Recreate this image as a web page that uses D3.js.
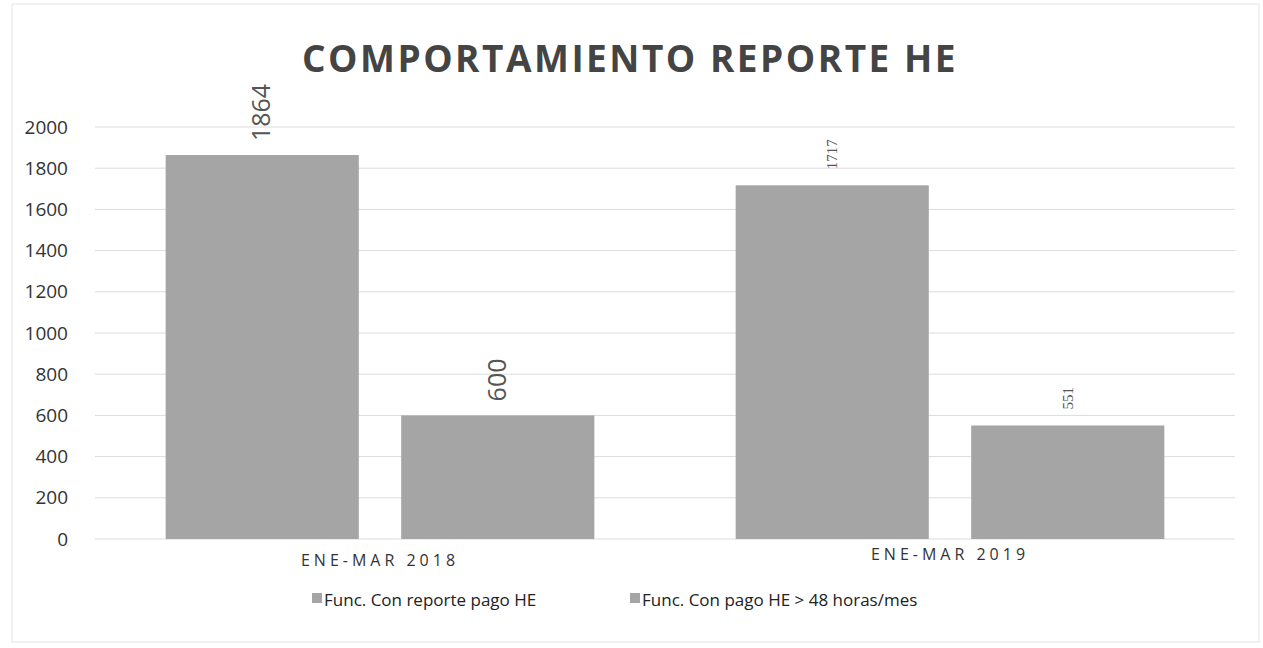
<!DOCTYPE html>
<html>
<head>
<meta charset="utf-8">
<script src="https://cdn.jsdelivr.net/npm/d3@7"></script>
<style>
  body { margin: 0; background: #fff; }
  svg { display: block; font-family: "Open Sans", "Noto Sans", sans-serif; }
</style>
</head>
<body>
<svg width="1263" height="648"></svg>
<script>
const categories = ["ENE-MAR 2018", "ENE-MAR 2019"];
const seriesNames = ["Func. Con reporte pago HE", "Func. Con pago HE > 48 horas/mes"];
const reporteHE = [1864, 1717];
const pagoMas48 = [600, 551];
const yTicks = [0, 200, 400, 600, 800, 1000, 1200, 1400, 1600, 1800, 2000];

const BAR_COLOR = "#a5a5a5";
const GRID_COLOR = "#dcdcdc";

var svg = d3.select("svg"),
	width = +svg.attr("width"),
	height = +svg.attr("height");

var margin = {top: 127, right: 28, bottom: 112, left: 95};

// faint page frame like the scan
svg.append("rect")
	.attr("x", 12).attr("y", 4)
	.attr("width", width - 16).attr("height", height - 10)
	.attr("fill", "none")
	.attr("stroke", "#e4e4e4");

var x0 = d3.scaleBand()
	.domain(categories)
	.range([margin.left, width - margin.right])
	.paddingInner(0)
	.paddingOuter(0);

var x1 = d3.scaleBand()
	.domain(seriesNames)
	.range([0, x0.bandwidth()])
	.paddingInner(0.18)
	.paddingOuter(0.3);

var y = d3.scaleLinear()
	.domain([0, 2000])
	.range([height - margin.bottom + 3, margin.top]);

// gridlines
svg.append("g")
	.attr("class", "grid")
	.selectAll("line")
	.data(yTicks)
	.enter().append("line")
	.attr("x1", margin.left)
	.attr("x2", width - margin.right)
	.attr("y1", function (d) { return y(d); })
	.attr("y2", function (d) { return y(d); })
	.attr("stroke", GRID_COLOR)
	.attr("stroke-width", 1);

// y axis labels
var yAxis = svg.append("g")
	.attr("transform", "translate(" + (margin.left - 27) + ",0)")
	.call(d3.axisLeft(y).tickValues(yTicks).tickFormat(d3.format("d")).tickSize(0).tickPadding(0));
yAxis.select(".domain").remove();
yAxis.selectAll("text")
	.attr("font-size", 19)
	.attr("fill", "#333")
	.attr("font-family", "'Open Sans', sans-serif");

// bars
var rows = categories.map(function (c, i) {
	return {cat: c, values: [
		{name: seriesNames[0], value: reporteHE[i], big: i === 0},
		{name: seriesNames[1], value: pagoMas48[i], big: i === 0}
	]};
});

var group = svg.append("g")
	.selectAll("g")
	.data(rows)
	.enter().append("g")
	.attr("transform", function (d) { return "translate(" + x0(d.cat) + ",0)"; });

group.selectAll("rect")
	.data(function (d) { return d.values; })
	.enter().append("rect")
	.attr("x", function (d) { return x1(d.name); })
	.attr("y", function (d) { return y(d.value); })
	.attr("width", x1.bandwidth())
	.attr("height", function (d) { return y(0) - y(d.value); })
	.attr("fill", BAR_COLOR);

// rotated value labels
group.selectAll("text.value")
	.data(function (d) { return d.values; })
	.enter().append("text")
	.attr("class", "value")
	.attr("transform", function (d) {
		var cx = x1(d.name) + x1.bandwidth() / 2;
		return "translate(" + (cx + (d.big ? 8 : 5)) + "," + (y(d.value) - (d.big ? 14 : 16)) + ") rotate(-90)";
	})
	.attr("font-size", function (d) { return d.big ? 25 : 15; })
	.attr("font-family", function (d) { return d.big ? "'Open Sans', sans-serif" : "'Liberation Serif', serif"; })
	.attr("fill", "#555")
	.text(function (d) { return d.value; });

// category labels
svg.append("g")
	.selectAll("text")
	.data(categories)
	.enter().append("text")
	.attr("x", function (d) { return x0(d) + x0.bandwidth() / 2; })
	.attr("y", function (d, i) { return i === 0 ? 566 : 560; })
	.attr("text-anchor", "middle")
	.attr("font-size", 16)
	.attr("letter-spacing", 4)
	.attr("fill", "#333")
	.text(function (d) { return d; });

// title
svg.append("text")
	.attr("x", 630)
	.attr("y", 72)
	.attr("text-anchor", "middle")
	.attr("font-size", 37)
	.attr("font-weight", "bold")
	.attr("letter-spacing", 2.5)
	.attr("fill", "#444")
	.text("COMPORTAMIENTO REPORTE HE");

// legend
var legendX = [312, 630];
var legend = svg.append("g")
	.selectAll("g")
	.data(seriesNames)
	.enter().append("g")
	.attr("transform", function (d, i) { return "translate(" + legendX[i] + ",606)"; });

legend.append("rect")
	.attr("x", 0).attr("y", -13)
	.attr("width", 10).attr("height", 10)
	.attr("fill", BAR_COLOR);

legend.append("text")
	.attr("x", 12)
	.attr("y", 0)
	.attr("font-size", 17)
	.attr("fill", "#222")
	.text(function (d) { return d; });
</script>
</body>
</html>
